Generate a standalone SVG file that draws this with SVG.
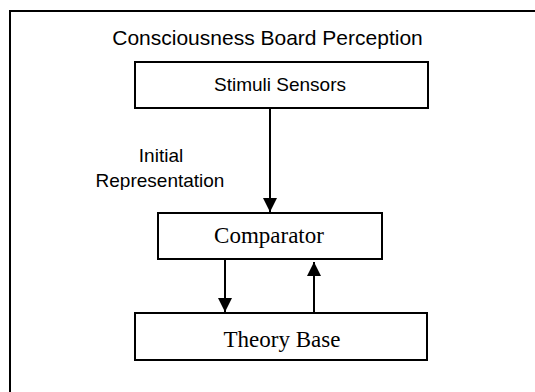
<svg xmlns="http://www.w3.org/2000/svg" width="535" height="392" viewBox="0 0 535 392">
<style>
.box{fill:#fff;stroke:#000;stroke-width:2}
.sans{font-family:"Liberation Sans",Arial,sans-serif;fill:#000}
.serif{font-family:"Liberation Serif","Times New Roman",serif;fill:#000}
.conn{stroke:#000;stroke-width:2;fill:none}
</style>
<defs>
<marker id="arr" viewBox="0 0 14 15" refX="14" refY="7" markerWidth="14" markerHeight="15" markerUnits="userSpaceOnUse" orient="auto">
<path d="M0,0 L14,7 L0,14 Z" fill="#000"/>
</marker>
<clipPath id="clipRep"><rect x="0" y="0" width="535" height="190"/></clipPath>
</defs>
<rect width="535" height="392" fill="#fff"/>
<path d="M10,392 V11 H535" fill="none" stroke="#000" stroke-width="2"/>
<text class="sans" x="267.5" y="45" font-size="21" text-anchor="middle">Consciousness Board Perception</text>
<g id="stimuli">
<rect class="box" x="135" y="62" width="293" height="46"/>
<text class="sans" x="280" y="91" font-size="19" text-anchor="middle">Stimuli Sensors</text>
</g>
<g id="comparator">
<rect class="box" x="158" y="213" width="224" height="46"/>
<text class="serif" x="269" y="243" font-size="23" text-anchor="middle">Comparator</text>
</g>
<g id="theory">
<rect class="box" x="135" y="313" width="292" height="47"/>
<text class="serif" x="282" y="347" font-size="23" text-anchor="middle">Theory Base</text>
</g>
<g id="connectors">
<line class="conn" x1="270" y1="108" x2="270" y2="212" marker-end="url(#arr)"/>
<line class="conn" x1="225" y1="260" x2="225" y2="312" marker-end="url(#arr)"/>
<line class="conn" x1="314" y1="313" x2="314" y2="262" marker-end="url(#arr)"/>
<g clip-path="url(#clipRep)">
<text class="sans" x="161" y="162" font-size="19" text-anchor="middle">Initial</text>
<text class="sans" x="160" y="187" font-size="19" text-anchor="middle">Representation</text>
</g>
</g>
</svg>
